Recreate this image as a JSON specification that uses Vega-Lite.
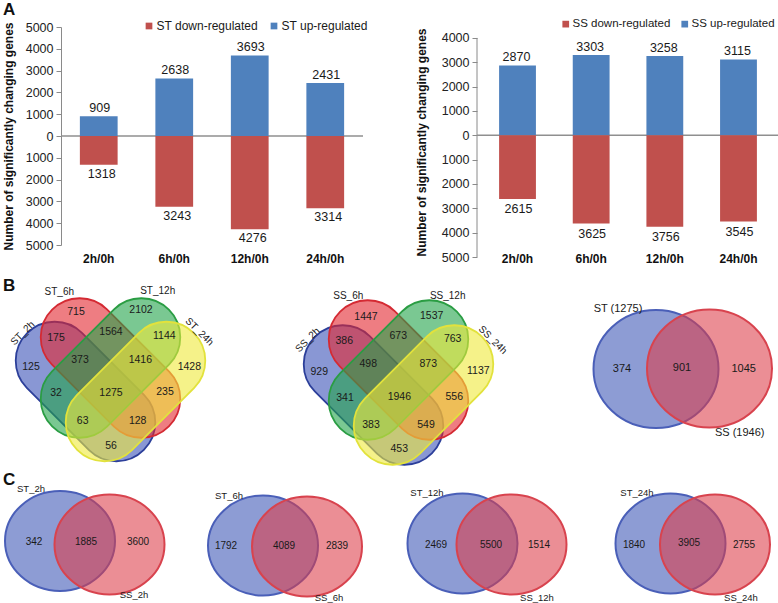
{
  "$schema": "https://vega.github.io/schema/vega-lite/v6.json",
  "padding": {"left": 0, "top": 1, "right": 0, "bottom": 0},
  "autosize": {"type": "pad"},
  "background": "white",
  "spacing": 0,
  "center": false,
  "resolve": {"scale": {"color": "independent", "fill": "independent", "stroke": "independent"}},
  "config": {"font": "Liberation Sans", "view": {"stroke": null}, "axisY": {"labelOverlap": false, "labelSeparation": 0, "labelBound": false}},
  "vconcat": [
    {
      "hconcat": [
        {
          "width": 60, "height": 218,
          "data": {"values": [{"letter": "A", "vx": 2, "vy": 2}]},
          "mark": {"type": "text", "align": "left", "baseline": "top", "fontSize": 17, "fontWeight": "bold", "color": "#111111"},
          "encoding": {
            "x": {"field": "vx", "type": "quantitative", "scale": {"domain": [0, 60], "nice": false, "zero": false}, "axis": null},
            "y": {"field": "vy", "type": "quantitative", "scale": {"domain": [27, 245], "nice": false, "zero": false, "reverse": true}, "axis": null},
            "text": {"field": "letter", "type": "nominal"}
          }
        },
        {
          "width": 302, "height": 218,
          "data": {"values": [
            {"time": "2h/0h", "regulation": "ST up-regulated", "change": 909, "genes": 909},
            {"time": "2h/0h", "regulation": "ST down-regulated", "change": -1318, "genes": 1318},
            {"time": "6h/0h", "regulation": "ST up-regulated", "change": 2638, "genes": 2638},
            {"time": "6h/0h", "regulation": "ST down-regulated", "change": -3243, "genes": 3243},
            {"time": "12h/0h", "regulation": "ST up-regulated", "change": 3693, "genes": 3693},
            {"time": "12h/0h", "regulation": "ST down-regulated", "change": -4276, "genes": 4276},
            {"time": "24h/0h", "regulation": "ST up-regulated", "change": 2431, "genes": 2431},
            {"time": "24h/0h", "regulation": "ST down-regulated", "change": -3314, "genes": 3314}
          ]},
          "encoding": {
            "y": {"field": "change", "type": "quantitative", "stack": null, "scale": {"domain": [-5000, 5000], "nice": false},
              "axis": {"title": "Number of significantly changing genes", "titleFontSize": 12, "titleFontWeight": "bold", "titleColor": "#111111", "titlePadding": 10,
                "values": [-5000, -4000, -3000, -2000, -1000, 0, 1000, 2000, 3000, 4000, 5000],
                "labelExpr": "'' + abs(datum.value)", "labelFontSize": 12.5, "labelColor": "#222222", "labelPadding": 3, "labelFlush": false, "labelOverlap": false, "labelSeparation": 0,
                "tickColor": "#8a8a8a", "tickSize": 5, "domainColor": "#8a8a8a", "grid": false}}
          },
          "layer": [
            {
              "data": {"values": [{"change": 0}]},
              "mark": {"type": "rule", "color": "#8f8f8f", "strokeWidth": 1.5},
              "encoding": {}
            },
            {
              "mark": {"type": "bar"},
              "encoding": {
                "x": {"field": "time", "type": "nominal", "sort": ["2h/0h", "6h/0h", "12h/0h", "24h/0h"],
                  "scale": {"type": "band", "paddingInner": 0.5, "paddingOuter": 0.25},
                  "axis": {"title": null, "labelAngle": 0, "labelFontWeight": "bold", "labelFontSize": 12, "labelColor": "#111111", "ticks": false, "tickSize": 0, "domain": false, "labelPadding": 8}},
                "color": {"field": "regulation", "type": "nominal",
                  "scale": {"domain": ["ST down-regulated", "ST up-regulated"], "range": ["#c0504d", "#4f81bd"]},
                  "legend": {"title": null, "orient": "none", "legendX": 82, "legendY": -7, "direction": "horizontal", "symbolType": "square", "symbolSize": 45, "symbolStrokeWidth": 0, "labelFontSize": 12, "labelColor": "#1a1a1a", "labelOffset": 1.5, "columnPadding": 10}}
              }
            },
            {
              "transform": [{"filter": "datum.change > 0"}],
              "mark": {"type": "text", "baseline": "alphabetic", "dy": -4, "dx": 1, "fontSize": 12.5, "color": "#1a1a1a"},
              "encoding": {
                "x": {"field": "time", "type": "nominal", "sort": ["2h/0h", "6h/0h", "12h/0h", "24h/0h"], "scale": {"type": "band", "paddingInner": 0.5, "paddingOuter": 0.25}},
                "text": {"field": "genes", "type": "nominal"}
              }
            },
            {
              "transform": [{"filter": "datum.change < 0"}],
              "mark": {"type": "text", "baseline": "top", "dy": 3, "dx": 3, "fontSize": 12.5, "color": "#1a1a1a"},
              "encoding": {
                "x": {"field": "time", "type": "nominal", "sort": ["2h/0h", "6h/0h", "12h/0h", "24h/0h"], "scale": {"type": "band", "paddingInner": 0.5, "paddingOuter": 0.25}},
                "text": {"field": "genes", "type": "nominal"}
              }
            }
          ]
        },
        {"width": 114, "height": 218, "data": {"values": []}, "mark": {"type": "text"}, "encoding": {}},
        {
          "width": 302, "height": 230,
          "data": {"values": [
            {"time": "2h/0h", "regulation": "SS up-regulated", "change": 2870, "genes": 2870},
            {"time": "2h/0h", "regulation": "SS down-regulated", "change": -2615, "genes": 2615},
            {"time": "6h/0h", "regulation": "SS up-regulated", "change": 3303, "genes": 3303},
            {"time": "6h/0h", "regulation": "SS down-regulated", "change": -3625, "genes": 3625},
            {"time": "12h/0h", "regulation": "SS up-regulated", "change": 3258, "genes": 3258},
            {"time": "12h/0h", "regulation": "SS down-regulated", "change": -3756, "genes": 3756},
            {"time": "24h/0h", "regulation": "SS up-regulated", "change": 3115, "genes": 3115},
            {"time": "24h/0h", "regulation": "SS down-regulated", "change": -3545, "genes": 3545}
          ]},
          "resolve": {"scale": {"x": "independent"}},
          "encoding": {
            "y": {"field": "change", "type": "quantitative", "stack": null, "scale": {"domain": [-5000, 4450], "nice": false},
              "axis": {"title": "Number of significantly changing genes", "titleFontSize": 12, "titleFontWeight": "bold", "titleColor": "#111111", "titlePadding": 13,
                "values": [-5000, -4000, -3000, -2000, -1000, 0, 1000, 2000, 3000, 4000],
                "labelExpr": "'' + abs(datum.value)", "labelFontSize": 12.5, "labelColor": "#222222", "labelPadding": 3, "labelFlush": false, "labelOverlap": false, "labelSeparation": 0,
                "tickColor": "#8a8a8a", "tickSize": 5, "domain": false, "grid": false}}
          },
          "layer": [
            {
              "data": {"values": [{"change": -5000, "top": 4000}]},
              "mark": {"type": "rule", "color": "#8a8a8a", "strokeWidth": 1},
              "encoding": {
                "x": {"datum": 0, "type": "quantitative", "scale": {"domain": [0, 1]}, "axis": null},
                "y2": {"field": "top"}
              }
            },
            {
              "data": {"values": [{"change": 0}]},
              "mark": {"type": "rule", "color": "#8f8f8f", "strokeWidth": 1.5},
              "encoding": {}
            },
            {
              "mark": {"type": "bar"},
              "encoding": {
                "x": {"field": "time", "type": "nominal", "sort": ["2h/0h", "6h/0h", "12h/0h", "24h/0h"],
                  "scale": {"type": "band", "paddingInner": 0.5, "paddingOuter": 0.3},
                  "axis": {"title": null, "labelAngle": 0, "labelFontWeight": "bold", "labelFontSize": 12, "labelColor": "#111111", "ticks": false, "tickSize": 0, "domain": false, "labelPadding": -4}},
                "color": {"field": "regulation", "type": "nominal",
                  "scale": {"domain": ["SS down-regulated", "SS up-regulated"], "range": ["#c0504d", "#4f81bd"]},
                  "legend": {"title": null, "orient": "none", "legendX": 83, "legendY": -9, "direction": "horizontal", "symbolType": "square", "symbolSize": 45, "symbolStrokeWidth": 0, "labelFontSize": 11.5, "labelColor": "#1a1a1a", "labelOffset": 1, "columnPadding": 8}}
              }
            },
            {
              "transform": [{"filter": "datum.change > 0"}],
              "mark": {"type": "text", "baseline": "alphabetic", "dy": -4, "dx": -1, "fontSize": 12.5, "color": "#1a1a1a"},
              "encoding": {
                "x": {"field": "time", "type": "nominal", "sort": ["2h/0h", "6h/0h", "12h/0h", "24h/0h"], "scale": {"type": "band", "paddingInner": 0.5, "paddingOuter": 0.3}, "axis": null},
                "text": {"field": "genes", "type": "nominal"}
              }
            },
            {
              "transform": [{"filter": "datum.change < 0"}],
              "mark": {"type": "text", "baseline": "top", "dy": 4.5, "dx": 1, "fontSize": 12.5, "color": "#1a1a1a"},
              "encoding": {
                "x": {"field": "time", "type": "nominal", "sort": ["2h/0h", "6h/0h", "12h/0h", "24h/0h"], "scale": {"type": "band", "paddingInner": 0.5, "paddingOuter": 0.3}, "axis": null},
                "text": {"field": "genes", "type": "nominal"}
              }
            }
          ]
        }
      ],
      "spacing": 0,
      "bounds": "flush",
      "resolve": {"scale": {"color": "independent"}}
    },
    {
      "hconcat": [
        {
          "width": 260, "height": 202,
          "encoding": {
            "x": {"field": "vx", "type": "quantitative", "scale": {"domain": [0, 260], "nice": false, "zero": false}, "axis": null},
            "y": {"field": "vy", "type": "quantitative", "scale": {"domain": [264, 466], "nice": false, "zero": false, "reverse": true}, "axis": null}
          },
          "layer": [
            {
              "data": {"values": [{"time": "2h", "vx": 84.5, "vy": 391.5}, {"time": "6h", "vx": 109.5, "vy": 368}]},
              "mark": {"type": "point", "shape": "M -3.54 -58.69 L 58.69 3.54 A 39 39 0 0 1 3.54 58.69 L -58.69 -3.54 A 39 39 0 0 1 -3.54 -58.69 Z", "size": 4, "filled": true, "opacity": 1, "fillOpacity": 0.6, "strokeWidth": 1.8, "strokeOpacity": 1},
              "encoding": {
                "fill": {"field": "time", "type": "nominal", "scale": {"domain": ["2h", "6h", "12h", "24h"], "range": ["#3a52b8", "#e3262f", "#21a34a", "#eeea3a"]}, "legend": null},
                "stroke": {"field": "time", "type": "nominal", "scale": {"domain": ["2h", "6h", "12h", "24h"], "range": ["#2c3f9a", "#d42a33", "#2a9d43", "#e2e23c"]}, "legend": null}
              }
            },
            {
              "data": {"values": [{"time": "12h", "vx": 109.5, "vy": 368}, {"time": "24h", "vx": 134.5, "vy": 391.5}]},
              "mark": {"type": "point", "shape": "M -58.69 3.54 L 3.54 -58.69 A 39 39 0 0 1 58.69 -3.54 L -3.54 58.69 A 39 39 0 0 1 -58.69 3.54 Z", "size": 4, "filled": true, "opacity": 1, "fillOpacity": 0.6, "strokeWidth": 1.8, "strokeOpacity": 1},
              "encoding": {
                "fill": {"field": "time", "type": "nominal", "legend": null},
                "stroke": {"field": "time", "type": "nominal", "legend": null}
              }
            },
            {
              "data": {"values": [
                {"count": "715", "vx": 75, "vy": 311.7}, {"count": "2102", "vx": 140, "vy": 310},
                {"count": "175", "vx": 55, "vy": 337.7}, {"count": "1564", "vx": 110, "vy": 331.7}, {"count": "1144", "vx": 163.3, "vy": 335.7},
                {"count": "125", "vx": 30, "vy": 366.7}, {"count": "373", "vx": 79, "vy": 360}, {"count": "1416", "vx": 139.3, "vy": 360}, {"count": "1428", "vx": 188.3, "vy": 366.7},
                {"count": "32", "vx": 55, "vy": 393.3}, {"count": "1275", "vx": 110, "vy": 392.7}, {"count": "235", "vx": 164, "vy": 392.3},
                {"count": "63", "vx": 81.7, "vy": 421}, {"count": "128", "vx": 136.7, "vy": 421}, {"count": "56", "vx": 110, "vy": 446}
              ]},
              "mark": {"type": "text", "fontSize": 10.5, "color": "#1a1a1a", "baseline": "middle"},
              "encoding": {"text": {"field": "count", "type": "nominal"}}
            },
            {
              "data": {"values": [{"name": "ST_6h", "vx": 58.3, "vy": 292.3}, {"name": "ST_12h", "vx": 156.7, "vy": 291}]},
              "mark": {"type": "text", "fontSize": 10, "color": "#1a1a1a", "baseline": "middle"},
              "encoding": {"text": {"field": "name", "type": "nominal"}}
            },
            {
              "data": {"values": [{"name": "ST_2h", "vx": 21.7, "vy": 333.3}]},
              "mark": {"type": "text", "fontSize": 10, "color": "#1a1a1a", "baseline": "middle", "angle": -45},
              "encoding": {"text": {"field": "name", "type": "nominal"}}
            },
            {
              "data": {"values": [{"name": "ST_24h", "vx": 198.3, "vy": 331.7}]},
              "mark": {"type": "text", "fontSize": 10, "color": "#1a1a1a", "baseline": "middle", "angle": 45},
              "encoding": {"text": {"field": "name", "type": "nominal"}}
            },
            {
              "data": {"values": [{"name": "B", "vx": 2, "vy": 278}]},
              "mark": {"type": "text", "fontSize": 17, "fontWeight": "bold", "color": "#111111", "align": "left", "baseline": "top"},
              "encoding": {"text": {"field": "name", "type": "nominal"}}
            }
          ]
        },
        {
          "width": 260, "height": 202,
          "encoding": {
            "x": {"field": "vx", "type": "quantitative", "scale": {"domain": [260, 520], "nice": false, "zero": false}, "axis": null},
            "y": {"field": "vy", "type": "quantitative", "scale": {"domain": [264, 466], "nice": false, "zero": false, "reverse": true}, "axis": null}
          },
          "layer": [
            {
              "data": {"values": [{"time": "2h", "vx": 372.5, "vy": 395}, {"time": "6h", "vx": 397.5, "vy": 370}]},
              "mark": {"type": "point", "shape": "M -3.54 -58.69 L 58.69 3.54 A 39 39 0 0 1 3.54 58.69 L -58.69 -3.54 A 39 39 0 0 1 -3.54 -58.69 Z", "size": 4, "filled": true, "opacity": 1, "fillOpacity": 0.6, "strokeWidth": 1.8, "strokeOpacity": 1},
              "encoding": {
                "fill": {"field": "time", "type": "nominal", "scale": {"domain": ["2h", "6h", "12h", "24h"], "range": ["#3a52b8", "#e3262f", "#21a34a", "#eeea3a"]}, "legend": null},
                "stroke": {"field": "time", "type": "nominal", "scale": {"domain": ["2h", "6h", "12h", "24h"], "range": ["#2c3f9a", "#d42a33", "#2a9d43", "#e2e23c"]}, "legend": null}
              }
            },
            {
              "data": {"values": [{"time": "12h", "vx": 397.5, "vy": 370}, {"time": "24h", "vx": 422.5, "vy": 395}]},
              "mark": {"type": "point", "shape": "M -58.69 3.54 L 3.54 -58.69 A 39 39 0 0 1 58.69 -3.54 L -3.54 58.69 A 39 39 0 0 1 -58.69 3.54 Z", "size": 4, "filled": true, "opacity": 1, "fillOpacity": 0.6, "strokeWidth": 1.8, "strokeOpacity": 1},
              "encoding": {
                "fill": {"field": "time", "type": "nominal", "legend": null},
                "stroke": {"field": "time", "type": "nominal", "legend": null}
              }
            },
            {
              "data": {"values": [
                {"count": "1447", "vx": 365, "vy": 316.7}, {"count": "1537", "vx": 430.7, "vy": 315.7},
                {"count": "386", "vx": 343.3, "vy": 341}, {"count": "673", "vx": 397.3, "vy": 335.7}, {"count": "763", "vx": 451.7, "vy": 339},
                {"count": "929", "vx": 318.3, "vy": 372.3}, {"count": "498", "vx": 367.3, "vy": 364.3}, {"count": "873", "vx": 427.3, "vy": 364.3}, {"count": "1137", "vx": 477.3, "vy": 371},
                {"count": "341", "vx": 344, "vy": 397.7}, {"count": "1946", "vx": 398.3, "vy": 396.7}, {"count": "556", "vx": 453.3, "vy": 396.7},
                {"count": "383", "vx": 370, "vy": 425}, {"count": "549", "vx": 425, "vy": 425}, {"count": "453", "vx": 398.3, "vy": 449}
              ]},
              "mark": {"type": "text", "fontSize": 10.5, "color": "#1a1a1a", "baseline": "middle"},
              "encoding": {"text": {"field": "count", "type": "nominal"}}
            },
            {
              "data": {"values": [{"name": "SS_6h", "vx": 347.3, "vy": 296}, {"name": "SS_12h", "vx": 446.7, "vy": 296}]},
              "mark": {"type": "text", "fontSize": 10, "color": "#1a1a1a", "baseline": "middle"},
              "encoding": {"text": {"field": "name", "type": "nominal"}}
            },
            {
              "data": {"values": [{"name": "SS_2h", "vx": 306.7, "vy": 340}]},
              "mark": {"type": "text", "fontSize": 10, "color": "#1a1a1a", "baseline": "middle", "angle": -45},
              "encoding": {"text": {"field": "name", "type": "nominal"}}
            },
            {
              "data": {"values": [{"name": "SS_24h", "vx": 491.7, "vy": 340}]},
              "mark": {"type": "text", "fontSize": 10, "color": "#1a1a1a", "baseline": "middle", "angle": 45},
              "encoding": {"text": {"field": "name", "type": "nominal"}}
            }
          ]
        },
        {
          "width": 258, "height": 202,
          "encoding": {
            "x": {"field": "vx", "type": "quantitative", "scale": {"domain": [520, 778], "nice": false, "zero": false}, "axis": null},
            "y": {"field": "vy", "type": "quantitative", "scale": {"domain": [264, 466], "nice": false, "zero": false, "reverse": true}, "axis": null}
          },
          "layer": [
            {
              "data": {"values": [{"group": "ST", "vx": 655, "vy": 369}, {"group": "SS", "vx": 708.5, "vy": 368.5}]},
              "mark": {"type": "point", "shape": "M -62.5 0 A 62.5 59 0 1 0 62.5 0 A 62.5 59 0 1 0 -62.5 0 Z", "size": 4, "filled": true, "opacity": 1, "fillOpacity": 0.58, "strokeWidth": 2, "strokeOpacity": 1},
              "encoding": {
                "fill": {"field": "group", "type": "nominal", "scale": {"domain": ["ST", "SS"], "range": ["#3a55b5", "#dc3c48"]}, "legend": null},
                "stroke": {"field": "group", "type": "nominal", "scale": {"domain": ["ST", "SS"], "range": ["#4a5fb8", "#d8434e"]}, "legend": null}
              }
            },
            {
              "data": {"values": [{"count": "374", "vx": 621, "vy": 369}, {"count": "901", "vx": 681, "vy": 368.3}, {"count": "1045", "vx": 742.7, "vy": 369}]},
              "mark": {"type": "text", "fontSize": 11, "color": "#1a1a1a", "baseline": "middle"},
              "encoding": {"text": {"field": "count", "type": "nominal"}}
            },
            {
              "data": {"values": [{"name": "ST (1275)", "vx": 617, "vy": 309}, {"name": "SS (1946)", "vx": 738.7, "vy": 432.7}]},
              "mark": {"type": "text", "fontSize": 11, "color": "#1a1a1a", "baseline": "middle"},
              "encoding": {"text": {"field": "name", "type": "nominal"}}
            }
          ]
        }
      ],
      "spacing": 0,
      "bounds": "flush",
      "resolve": {"scale": {"fill": "independent", "stroke": "independent"}}
    },
    {
      "hconcat": [
        {
          "width": 195, "height": 137,
          "encoding": {
            "x": {"field": "vx", "type": "quantitative", "scale": {"domain": [0, 195], "nice": false, "zero": false}, "axis": null},
            "y": {"field": "vy", "type": "quantitative", "scale": {"domain": [466, 603], "nice": false, "zero": false, "reverse": true}, "axis": null}
          },
          "layer": [
            {
              "data": {"values": [{"group": "ST", "vx": 59, "vy": 538}, {"group": "SS", "vx": 108.5, "vy": 541.5}]},
              "mark": {"type": "point", "shape": "M -55 0 A 55 50 0 1 0 55 0 A 55 50 0 1 0 -55 0 Z", "size": 4, "filled": true, "opacity": 1, "fillOpacity": 0.58, "strokeWidth": 2, "strokeOpacity": 1},
              "encoding": {
                "fill": {"field": "group", "type": "nominal", "scale": {"domain": ["ST", "SS"], "range": ["#3a55b5", "#dc3c48"]}, "legend": null},
                "stroke": {"field": "group", "type": "nominal", "scale": {"domain": ["ST", "SS"], "range": ["#4a5fb8", "#d8434e"]}, "legend": null}
              }
            },
            {
              "data": {"values": [{"count": "342", "vx": 33, "vy": 538.5}, {"count": "1885", "vx": 85, "vy": 538.5}, {"count": "3600", "vx": 137, "vy": 538.5}]},
              "mark": {"type": "text", "fontSize": 10, "color": "#1a1a1a", "baseline": "middle"},
              "encoding": {"text": {"field": "count", "type": "nominal"}}
            },
            {
              "data": {"values": [{"name": "ST_2h", "vx": 30, "vy": 485.5}, {"name": "SS_2h", "vx": 133, "vy": 592}]},
              "mark": {"type": "text", "fontSize": 9.5, "color": "#1a1a1a", "baseline": "middle"},
              "encoding": {"text": {"field": "name", "type": "nominal"}}
            },
            {
              "data": {"values": [{"name": "C", "vx": 2, "vy": 468.5}]},
              "mark": {"type": "text", "fontSize": 17, "fontWeight": "bold", "color": "#111111", "align": "left", "baseline": "top"},
              "encoding": {"text": {"field": "name", "type": "nominal"}}
            }
          ]
        },
        {
          "width": 195, "height": 137,
          "encoding": {
            "x": {"field": "vx", "type": "quantitative", "scale": {"domain": [195, 390], "nice": false, "zero": false}, "axis": null},
            "y": {"field": "vy", "type": "quantitative", "scale": {"domain": [466, 603], "nice": false, "zero": false, "reverse": true}, "axis": null}
          },
          "layer": [
            {
              "data": {"values": [{"group": "ST", "vx": 262, "vy": 542.5}, {"group": "SS", "vx": 306, "vy": 543.5}]},
              "mark": {"type": "point", "shape": "M -55 0 A 55 50 0 1 0 55 0 A 55 50 0 1 0 -55 0 Z", "size": 4, "filled": true, "opacity": 1, "fillOpacity": 0.58, "strokeWidth": 2, "strokeOpacity": 1},
              "encoding": {
                "fill": {"field": "group", "type": "nominal", "scale": {"domain": ["ST", "SS"], "range": ["#3a55b5", "#dc3c48"]}, "legend": null},
                "stroke": {"field": "group", "type": "nominal", "scale": {"domain": ["ST", "SS"], "range": ["#4a5fb8", "#d8434e"]}, "legend": null}
              }
            },
            {
              "data": {"values": [{"count": "1792", "vx": 225, "vy": 542.5}, {"count": "4089", "vx": 283, "vy": 542.5}, {"count": "2839", "vx": 336, "vy": 542.5}]},
              "mark": {"type": "text", "fontSize": 10, "color": "#1a1a1a", "baseline": "middle"},
              "encoding": {"text": {"field": "count", "type": "nominal"}}
            },
            {
              "data": {"values": [{"name": "ST_6h", "vx": 228, "vy": 492.5}, {"name": "SS_6h", "vx": 328, "vy": 595}]},
              "mark": {"type": "text", "fontSize": 9.5, "color": "#1a1a1a", "baseline": "middle"},
              "encoding": {"text": {"field": "name", "type": "nominal"}}
            }
          ]
        },
        {
          "width": 194, "height": 137,
          "encoding": {
            "x": {"field": "vx", "type": "quantitative", "scale": {"domain": [390, 584], "nice": false, "zero": false}, "axis": null},
            "y": {"field": "vy", "type": "quantitative", "scale": {"domain": [466, 603], "nice": false, "zero": false, "reverse": true}, "axis": null}
          },
          "layer": [
            {
              "data": {"values": [{"group": "ST", "vx": 461.5, "vy": 540.5}, {"group": "SS", "vx": 510.5, "vy": 541.5}]},
              "mark": {"type": "point", "shape": "M -55 0 A 55 50 0 1 0 55 0 A 55 50 0 1 0 -55 0 Z", "size": 4, "filled": true, "opacity": 1, "fillOpacity": 0.58, "strokeWidth": 2, "strokeOpacity": 1},
              "encoding": {
                "fill": {"field": "group", "type": "nominal", "scale": {"domain": ["ST", "SS"], "range": ["#3a55b5", "#dc3c48"]}, "legend": null},
                "stroke": {"field": "group", "type": "nominal", "scale": {"domain": ["ST", "SS"], "range": ["#4a5fb8", "#d8434e"]}, "legend": null}
              }
            },
            {
              "data": {"values": [{"count": "2469", "vx": 435, "vy": 541.5}, {"count": "5500", "vx": 490, "vy": 541.5}, {"count": "1514", "vx": 538, "vy": 541.5}]},
              "mark": {"type": "text", "fontSize": 10, "color": "#1a1a1a", "baseline": "middle"},
              "encoding": {"text": {"field": "count", "type": "nominal"}}
            },
            {
              "data": {"values": [{"name": "ST_12h", "vx": 426, "vy": 489.5}, {"name": "SS_12h", "vx": 536, "vy": 595}]},
              "mark": {"type": "text", "fontSize": 9.5, "color": "#1a1a1a", "baseline": "middle"},
              "encoding": {"text": {"field": "name", "type": "nominal"}}
            }
          ]
        },
        {
          "width": 194, "height": 137,
          "encoding": {
            "x": {"field": "vx", "type": "quantitative", "scale": {"domain": [584, 778], "nice": false, "zero": false}, "axis": null},
            "y": {"field": "vy", "type": "quantitative", "scale": {"domain": [466, 603], "nice": false, "zero": false, "reverse": true}, "axis": null}
          },
          "layer": [
            {
              "data": {"values": [{"group": "ST", "vx": 669.5, "vy": 540.5}, {"group": "SS", "vx": 714, "vy": 541.5}]},
              "mark": {"type": "point", "shape": "M -55 0 A 55 50 0 1 0 55 0 A 55 50 0 1 0 -55 0 Z", "size": 4, "filled": true, "opacity": 1, "fillOpacity": 0.58, "strokeWidth": 2, "strokeOpacity": 1},
              "encoding": {
                "fill": {"field": "group", "type": "nominal", "scale": {"domain": ["ST", "SS"], "range": ["#3a55b5", "#dc3c48"]}, "legend": null},
                "stroke": {"field": "group", "type": "nominal", "scale": {"domain": ["ST", "SS"], "range": ["#4a5fb8", "#d8434e"]}, "legend": null}
              }
            },
            {
              "data": {"values": [{"count": "1840", "vx": 633, "vy": 541.5}, {"count": "3905", "vx": 688, "vy": 539.5}, {"count": "2755", "vx": 743, "vy": 541.5}]},
              "mark": {"type": "text", "fontSize": 10, "color": "#1a1a1a", "baseline": "middle"},
              "encoding": {"text": {"field": "count", "type": "nominal"}}
            },
            {
              "data": {"values": [{"name": "ST_24h", "vx": 636, "vy": 489.5}, {"name": "SS_24h", "vx": 740, "vy": 595}]},
              "mark": {"type": "text", "fontSize": 9.5, "color": "#1a1a1a", "baseline": "middle"},
              "encoding": {"text": {"field": "name", "type": "nominal"}}
            }
          ]
        }
      ],
      "spacing": 0,
      "bounds": "flush",
      "resolve": {"scale": {"fill": "independent", "stroke": "independent"}}
    }
  ]
}
